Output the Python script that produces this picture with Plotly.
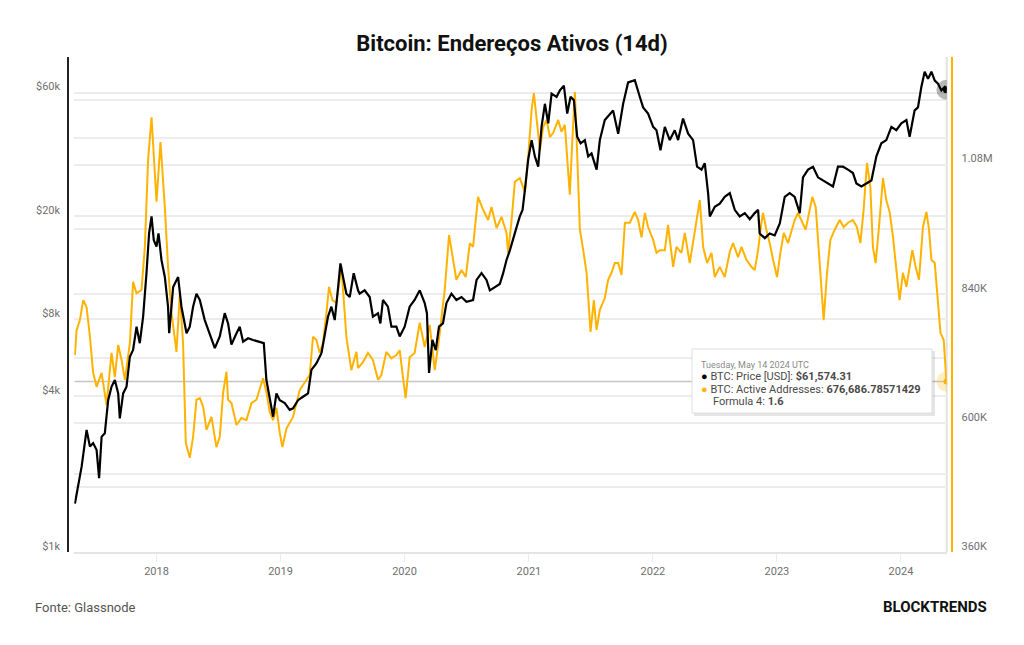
import pandas as pd
import plotly.graph_objects as go

# ---------------- data ----------------
price_t = [
    2017.342, 2017.368, 2017.396, 2017.414, 2017.436, 2017.463, 2017.489, 2017.517, 2017.537, 2017.557,
    2017.583, 2017.610, 2017.637, 2017.664, 2017.691, 2017.704, 2017.731, 2017.758, 2017.785, 2017.811,
    2017.839, 2017.865, 2017.892, 2017.919, 2017.940, 2017.960, 2017.978, 2018.000, 2018.016, 2018.040,
    2018.067, 2018.093, 2018.102, 2018.134, 2018.174, 2018.201, 2018.242, 2018.268, 2018.295, 2018.322,
    2018.349, 2018.389, 2018.429, 2018.470, 2018.510, 2018.550, 2018.577, 2018.604, 2018.645, 2018.671,
    2018.698, 2018.738, 2018.778, 2018.832, 2018.865, 2018.886, 2018.913, 2018.940, 2018.967, 2018.994,
    2019.034, 2019.074, 2019.101, 2019.141, 2019.181, 2019.222, 2019.249, 2019.289, 2019.330, 2019.356,
    2019.383, 2019.410, 2019.437, 2019.459, 2019.483, 2019.509, 2019.531, 2019.558, 2019.590, 2019.625,
    2019.638, 2019.678, 2019.719, 2019.745, 2019.786, 2019.805, 2019.826, 2019.866, 2019.894, 2019.934,
    2019.961, 2020.001, 2020.041, 2020.081, 2020.122, 2020.162, 2020.180, 2020.197, 2020.224, 2020.251,
    2020.277, 2020.309, 2020.337, 2020.377, 2020.417, 2020.458, 2020.498, 2020.551, 2020.579, 2020.619,
    2020.659, 2020.686, 2020.726, 2020.766, 2020.793, 2020.820, 2020.847, 2020.873, 2020.901, 2020.927,
    2020.949, 2020.968, 2020.994, 2021.022, 2021.048, 2021.075, 2021.102, 2021.129, 2021.156, 2021.183,
    2021.223, 2021.250, 2021.282, 2021.309, 2021.336, 2021.363, 2021.389, 2021.417, 2021.451, 2021.478,
    2021.505, 2021.546, 2021.572, 2021.612, 2021.653, 2021.679, 2021.720, 2021.760, 2021.800, 2021.854,
    2021.894, 2021.921, 2021.961, 2022.002, 2022.029, 2022.061, 2022.096, 2022.136, 2022.176, 2022.203,
    2022.243, 2022.284, 2022.324, 2022.356, 2022.392, 2022.418, 2022.445, 2022.459, 2022.499, 2022.539,
    2022.579, 2022.620, 2022.660, 2022.700, 2022.741, 2022.781, 2022.821, 2022.848, 2022.861, 2022.902,
    2022.942, 2022.982, 2023.023, 2023.063, 2023.103, 2023.143, 2023.184, 2023.210, 2023.251, 2023.291,
    2023.331, 2023.372, 2023.412, 2023.452, 2023.492, 2023.533, 2023.573, 2023.613, 2023.641, 2023.681,
    2023.721, 2023.762, 2023.802, 2023.842, 2023.882, 2023.923, 2023.963, 2024.003, 2024.044, 2024.070,
    2024.110, 2024.137, 2024.164, 2024.191, 2024.218, 2024.245, 2024.272, 2024.298, 2024.325, 2024.352,
    2024.366,
]
price_usd = [
    1540, 1790, 2140, 2480, 2970, 2560, 2640, 2480, 1930, 2790,
    2880, 3870, 4360, 4630, 4110, 3290, 4110, 4360, 5700, 6050,
    7450, 6430, 8150, 12000, 17100, 19900, 16100, 15200, 17100, 13500,
    11600, 8900, 7030, 10600, 11600, 8900, 7030, 7450, 8900, 10000,
    9450, 7900, 7030, 6150, 6830, 8400, 7670, 6350, 7030, 7450,
    6520, 6720, 6620, 6520, 6430, 4630, 3870, 3340, 4110, 3870,
    3770, 3550, 3600, 3870, 3990, 4110, 5070, 5370, 5880, 7030,
    8150, 8900, 7900, 10000, 13100, 11300, 10000, 9700, 12000, 10300,
    10000, 10300, 9700, 8150, 8400, 7670, 9450, 8900, 7450, 7450,
    6830, 7450, 8900, 9450, 10300, 9200, 8400, 4930, 6620, 6050,
    7450, 7670, 9200, 10000, 9450, 9700, 9300, 9450, 11300, 12000,
    11300, 10300, 10600, 10900, 12000, 13500, 14700, 16100, 18100, 19900,
    21100, 25200, 33000, 39300, 34000, 31000, 44200, 54300, 45600, 59500,
    57800, 61200, 63800, 49800, 57800, 56000, 40500, 38200, 39300, 34000,
    34900, 30200, 39300, 47000, 49800, 51200, 41600, 54300, 65700, 67000,
    57800, 52600, 49800, 44200, 42900, 35900, 44200, 39300, 42900, 39300,
    47600, 41600, 39300, 31000, 30200, 32000, 24500, 19900, 21700, 22300,
    23700, 24500, 21100, 19900, 20500, 19400, 20500, 21100, 17100, 16400,
    17100, 16800, 18700, 23700, 24500, 23700, 20500, 28200, 30200, 31000,
    28200, 27400, 26700, 26000, 31000, 31000, 30200, 29300, 26700, 26000,
    26700, 27400, 34000, 38200, 39300, 44200, 42900, 45600, 47000, 40500,
    51200, 52600, 63100, 72300, 67800, 72300, 66800, 65000, 61200, 63100,
    61574.31,
]

addr_t = [
    2017.342, 2017.355, 2017.382, 2017.409, 2017.436, 2017.463, 2017.489, 2017.517, 2017.557, 2017.597,
    2017.637, 2017.664, 2017.691, 2017.718, 2017.745, 2017.785, 2017.811, 2017.839, 2017.879, 2017.906,
    2017.932, 2017.960, 2018.000, 2018.032, 2018.067, 2018.093, 2018.121, 2018.161, 2018.188, 2018.214,
    2018.236, 2018.268, 2018.295, 2018.322, 2018.349, 2018.376, 2018.403, 2018.443, 2018.483, 2018.510,
    2018.537, 2018.564, 2018.577, 2018.604, 2018.645, 2018.685, 2018.725, 2018.766, 2018.806, 2018.832,
    2018.859, 2018.886, 2018.913, 2018.940, 2018.967, 2018.994, 2019.015, 2019.048, 2019.101, 2019.155,
    2019.209, 2019.235, 2019.262, 2019.289, 2019.316, 2019.342, 2019.370, 2019.391, 2019.418, 2019.450,
    2019.491, 2019.531, 2019.571, 2019.612, 2019.625, 2019.665, 2019.705, 2019.745, 2019.786, 2019.813,
    2019.853, 2019.894, 2019.934, 2019.961, 2019.987, 2020.009, 2020.041, 2020.081, 2020.122, 2020.162,
    2020.202, 2020.243, 2020.283, 2020.323, 2020.358, 2020.390, 2020.417, 2020.458, 2020.492, 2020.525,
    2020.551, 2020.591, 2020.632, 2020.672, 2020.699, 2020.740, 2020.780, 2020.820, 2020.833, 2020.861,
    2020.887, 2020.927, 2020.968, 2020.994, 2021.022, 2021.040, 2021.067, 2021.089, 2021.115, 2021.143,
    2021.169, 2021.196, 2021.236, 2021.263, 2021.290, 2021.312, 2021.330, 2021.349, 2021.371, 2021.389,
    2021.411, 2021.438, 2021.465, 2021.497, 2021.524, 2021.546, 2021.572, 2021.612, 2021.639, 2021.666,
    2021.693, 2021.720, 2021.747, 2021.774, 2021.814, 2021.854, 2021.881, 2021.908, 2021.935, 2021.961,
    2022.002, 2022.029, 2022.056, 2022.096, 2022.122, 2022.163, 2022.190, 2022.230, 2022.257, 2022.297,
    2022.338, 2022.378, 2022.405, 2022.437, 2022.472, 2022.499, 2022.539, 2022.579, 2022.620, 2022.646,
    2022.687, 2022.714, 2022.754, 2022.794, 2022.821, 2022.848, 2022.875, 2022.888, 2022.915, 2022.942,
    2022.969, 2023.001, 2023.028, 2023.055, 2023.089, 2023.117, 2023.143, 2023.170, 2023.197, 2023.232,
    2023.259, 2023.286, 2023.313, 2023.339, 2023.359, 2023.377, 2023.404, 2023.431, 2023.466, 2023.506,
    2023.538, 2023.573, 2023.613, 2023.645, 2023.673, 2023.699, 2023.726, 2023.753, 2023.774, 2023.796,
    2023.823, 2023.855, 2023.882, 2023.909, 2023.936, 2023.963, 2023.989, 2024.016, 2024.044, 2024.070,
    2024.092, 2024.118, 2024.145, 2024.177, 2024.205, 2024.226, 2024.245, 2024.272, 2024.298, 2024.318,
    2024.344, 2024.366,
]
addr_k = [
    726, 772, 791, 828, 815, 760, 693, 667, 693, 633,
    730, 685, 745, 717, 680, 748, 862, 841, 847, 927,
    1089, 1168, 1011, 1122, 1001, 890, 804, 732, 841, 748,
    563, 535, 574, 643, 646, 630, 587, 611, 555, 574,
    656, 695, 643, 637, 596, 609, 605, 637, 643, 661,
    683, 657, 620, 605, 628, 581, 555, 590, 611, 661,
    680, 689, 760, 754, 730, 748, 804, 853, 828, 823,
    890, 760, 698, 732, 702, 713, 730, 717, 680, 689,
    732, 720, 726, 735, 685, 646, 722, 730, 786, 741,
    782, 698, 767, 847, 949, 908, 866, 884, 871, 934,
    927, 1020, 996, 977, 1001, 962, 983, 953, 916, 977,
    1048, 1055, 1029, 1094, 1182, 1213, 1157, 1107, 1150, 1163,
    1131, 1139, 1163, 1141, 1154, 1089, 1024, 1120, 1215, 1102,
    959, 921, 879, 769, 828, 773, 810, 832, 866, 879,
    897, 897, 875, 972, 972, 992, 977, 945, 990, 964,
    940, 916, 921, 921, 968, 890, 927, 916, 953, 897,
    953, 1014, 927, 897, 916, 871, 890, 871, 918, 934,
    908, 927, 903, 890, 884, 921, 972, 990, 959, 934,
    903, 871, 916, 953, 934, 959, 977, 990, 977, 959,
    990, 1020, 1001, 916, 841, 791, 879, 940, 959, 977,
    964, 972, 977, 964, 934, 996, 1083, 1039, 927, 897,
    964, 1055, 1014, 992, 945, 890, 828, 879, 853, 890,
    921, 890, 866, 964, 992, 959, 903, 897, 828, 767,
    754, 676.68678571429,
]

x_tick_years = [2018, 2019, 2020, 2021, 2022, 2023, 2024]
left_tickvals = [1000, 2000, 4000, 8000, 20000, 40000, 60000]
left_ticktext = ["$1k", "", "$4k", "$8k", "$20k", "", "$60k"]
right_tickvals = [360000, 480000, 600000, 720000, 840000, 960000, 1080000, 1200000]
right_ticktext = ["360K", "", "600K", "", "840K", "", "1.08M", ""]

tooltip_date = "Tuesday, May 14 2024 UTC"
tooltip_price = "$61,574.31"
tooltip_addr = "676,686.78571429"
tooltip_formula = "1.6"

TITLE = "Bitcoin: Endereços Ativos (14d)"
SOURCE = "Fonte: Glassnode"
BRAND = "BLOCKTRENDS"

# ---------------- helpers ----------------
def to_date(y):
    yr = int(y)
    start = pd.Timestamp(yr, 1, 1)
    ndays = (pd.Timestamp(yr + 1, 1, 1) - start).days
    return start + pd.Timedelta(days=(y - yr) * ndays)

price_x = [to_date(v) for v in price_t]
addr_x = [to_date(v) for v in addr_t]
addr = [v * 1000 for v in addr_k]

W, H = 1024, 645
L_PX, R_PX, T_PX, B_PX = 74.3, 946.7, 57, 552
def px(x):
    return x / W
def py(y):
    return (B_PX - y) / (B_PX - T_PX)

ORANGE = "#FFB300"
GRID = "#ececec"
TICKFONT = dict(family="Roboto", size=11, color="#707070")

x_range = [to_date(2017.337), to_date(2024.368)]

fig = go.Figure()

fig.add_trace(go.Scatter(x=addr_x, y=addr, mode="lines", yaxis="y",
                         line=dict(color=ORANGE, width=2), hoverinfo="skip"))
fig.add_trace(go.Scatter(x=[addr_x[-1]], y=[addr[-1]], mode="markers", yaxis="y",
                         marker=dict(size=20, color="rgba(255,190,40,0.28)"), hoverinfo="skip"))
fig.add_trace(go.Scatter(x=[addr_x[-1]], y=[addr[-1]], mode="markers", yaxis="y",
                         marker=dict(size=6, color=ORANGE), hoverinfo="skip"))

fig.add_trace(go.Scatter(x=price_x, y=price_usd, mode="lines", yaxis="y2",
                         line=dict(color="#000000", width=2.2), hoverinfo="skip"))
fig.add_trace(go.Scatter(x=[price_x[-1]], y=[price_usd[-1]], mode="markers", yaxis="y2",
                         marker=dict(size=20, color="rgba(0,0,0,0.28)"), hoverinfo="skip"))
fig.add_trace(go.Scatter(x=[price_x[-1]], y=[price_usd[-1]], mode="markers", yaxis="y2",
                         marker=dict(size=7, color="#000000"), hoverinfo="skip"))

shapes = [
    # right plot edge
    dict(type="line", xref="paper", yref="paper", x0=px(R_PX), x1=px(R_PX), y0=0, y1=1,
         line=dict(color="#e2e2e2", width=2), layer="below"),
    # crosshair at hovered value
    dict(type="line", xref="x", yref="y", x0=x_range[0], x1=addr_x[-1], y0=addr[-1], y1=addr[-1],
         line=dict(color="#c4c4c4", width=1.5), layer="between"),
    # tooltip shadow + box
    dict(type="rect", xref="paper", yref="paper", x0=px(694), x1=px(935), y0=py(416), y1=py(351),
         line=dict(width=0), fillcolor="rgba(0,0,0,0.10)", layer="above"),
    dict(type="rect", xref="paper", yref="paper", x0=px(692), x1=px(932), y0=py(413), y1=py(349),
         line=dict(color="#dddddd", width=1), fillcolor="#ffffff", layer="above"),
]

ann = [
    dict(text=tooltip_date, x=px(699), y=py(364.5), font=dict(family="Roboto", size=9, color="#8a8a8a")),
    dict(text="<span style='color:#000'>●</span> BTC: Price [USD]: <b>" + tooltip_price + "</b>",
         x=px(699), y=py(376.5), font=dict(family="Roboto", size=11, color="#4a4a4a")),
    dict(text="<span style='color:" + ORANGE + "'>●</span> BTC: Active Addresses: <b>" + tooltip_addr + "</b>",
         x=px(699), y=py(389), font=dict(family="Roboto", size=11, color="#4a4a4a")),
    dict(text="Formula 4: <b>" + tooltip_formula + "</b>",
         x=px(711), y=py(401.5), font=dict(family="Roboto", size=11, color="#4a4a4a")),
    dict(text=SOURCE, x=px(33), y=py(607), font=dict(family="Roboto", size=13, color="#555555")),
]
annotations = []
for a in ann:
    d = dict(xref="paper", yref="paper", xanchor="left", yanchor="middle", showarrow=False, align="left")
    d.update(a)
    annotations.append(d)
annotations.append(dict(text="<b>" + BRAND + "</b>", xref="paper", yref="paper", x=px(989), y=py(607),
                        xanchor="right", yanchor="middle", showarrow=False,
                        font=dict(family="Roboto", size=15, color="#111111")))

fig.update_layout(
    width=W, height=H,
    margin=dict(l=0, r=0, t=T_PX, b=H - B_PX, pad=0),
    paper_bgcolor="white", plot_bgcolor="white",
    showlegend=False, hovermode=False,
    title=dict(text="<b>" + TITLE + "</b>", x=0.5, xanchor="center", xref="paper",
               y=1 - 43 / H, yref="container", yanchor="middle",
               font=dict(family="Roboto", size=22, color="#111111")),
    xaxis=dict(type="date", domain=[px(L_PX), px(R_PX)], range=x_range,
               tickvals=[pd.Timestamp(y, 1, 1) for y in x_tick_years],
               ticktext=[str(y) for y in x_tick_years],
               showgrid=False, zeroline=False,
               showline=True, linecolor="#e4e4e4", linewidth=2, mirror=False,
               ticks="outside", ticklen=8, tickcolor="#ececec", tickwidth=1,
               tickfont=TICKFONT),
    yaxis=dict(range=[360000, 1280000], side="right", anchor="free", position=952.3 / W,
               tickvals=right_tickvals, ticktext=right_ticktext,
               showgrid=True, gridcolor=GRID, gridwidth=1.5, zeroline=False,
               showline=True, linecolor=ORANGE, linewidth=2, ticks="",
               ticklabelshift=-6, ticklabelstandoff=6, tickfont=TICKFONT),
    yaxis2=dict(type="log", range=[3, 4.916], overlaying="y", side="left", anchor="free",
                position=68.3 / W,
                tickvals=left_tickvals, ticktext=left_ticktext,
                showgrid=True, gridcolor=GRID, gridwidth=1.5, zeroline=False,
                showline=True, linecolor="#222222", linewidth=2, ticks="",
                ticklabelshift=-6, ticklabelstandoff=5, tickfont=TICKFONT),
    shapes=shapes,
    annotations=annotations,
)

fig.write_html("out.html")
